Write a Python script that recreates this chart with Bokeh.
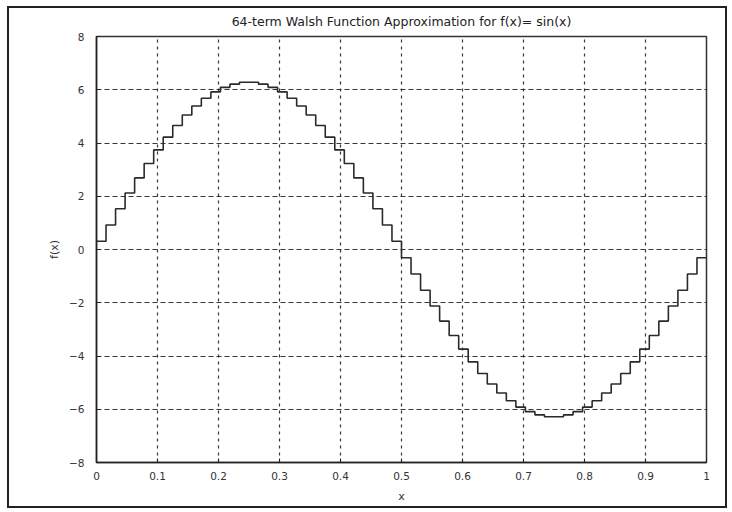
from bokeh.plotting import figure
from bokeh.embed import file_html
from bokeh.resources import INLINE
from bokeh.models import FixedTicker, Range1d

# Step values of the 64-term approximation
steps = [0.31, 0.92, 1.53, 2.12, 2.69, 3.23, 3.74, 4.22, 4.66, 5.05, 5.39, 5.68, 5.92, 6.09, 6.21, 6.28,
         6.28, 6.21, 6.09, 5.92, 5.68, 5.39, 5.05, 4.66, 4.22, 3.74, 3.23, 2.69, 2.12, 1.53, 0.92, 0.31,
         -0.31, -0.92, -1.53, -2.12, -2.69, -3.23, -3.74, -4.22, -4.66, -5.05, -5.39, -5.68, -5.92, -6.09, -6.21, -6.28,
         -6.28, -6.21, -6.09, -5.92, -5.68, -5.39, -5.05, -4.66, -4.22, -3.74, -3.23, -2.69, -2.12, -1.53, -0.92, -0.31]
n_terms = 64
x_ticks = [0, 0.1, 0.2, 0.3, 0.4, 0.5, 0.6, 0.7, 0.8, 0.9, 1]
x_tick_labels = ["0", "0.1", "0.2", "0.3", "0.4", "0.5", "0.6", "0.7", "0.8", "0.9", "1"]
y_ticks = [-8, -6, -4, -2, 0, 2, 4, 6, 8]

x_edges = [k / n_terms for k in range(n_terms + 1)]
y_vals = steps + [steps[-1]]

FONT = "DejaVu Sans"

p = figure(width=720, height=502, output_backend="svg", toolbar_location=None,
           x_range=Range1d(0, 1), y_range=Range1d(-8, 8),
           min_border_left=87, min_border_right=23, min_border_top=28, min_border_bottom=48,
           title="64-term Walsh Function Approximation for f(x)= sin(x)")
p.styles = {"border": "2px solid #222", "margin-left": "7px", "margin-top": "6px"}

p.step(x_edges, y_vals, mode="after", line_color="#2a2a2a", line_width=1.6)

p.title.align = "center"
p.title.vertical_align = "top"
p.title.text_font = FONT
p.title.text_font_size = "12.5px"
p.title.text_font_style = "normal"
p.title.text_color = "#222222"
p.title.standoff = 11

p.outline_line_color = "#333333"
p.outline_line_width = 1.5
p.outline_line_alpha = 1

for ax in (p.xaxis[0], p.yaxis[0]):
    ax.axis_line_color = "#222222"
    ax.axis_line_width = 1.5
    ax.major_tick_in = 4
    ax.major_tick_out = 0
    ax.minor_tick_line_color = None
    ax.major_tick_line_color = "#222222"
    ax.major_label_text_font = FONT
    ax.major_label_text_font_size = "10.5px"
    ax.major_label_text_color = "#333333"
    ax.axis_label_text_font = FONT
    ax.axis_label_text_font_size = "11px"
    ax.axis_label_text_font_style = "normal"
    ax.axis_label_text_color = "#333333"

p.xaxis.ticker = FixedTicker(ticks=x_ticks)
p.xaxis.major_label_overrides = {t: l for t, l in zip(x_ticks, x_tick_labels)}
p.yaxis.ticker = FixedTicker(ticks=y_ticks)
p.xaxis.axis_label = "x"
p.yaxis.axis_label = "f(x)"
p.xaxis.major_label_standoff = 9
p.yaxis.major_label_standoff = 12
p.xaxis.axis_label_standoff = 7
p.yaxis.axis_label_standoff = 5

p.xgrid.ticker = FixedTicker(ticks=x_ticks)
p.ygrid.ticker = FixedTicker(ticks=y_ticks)
p.xgrid.grid_line_dash = "3 4"
p.ygrid.grid_line_dash = "5 3"
for g in (p.xgrid[0], p.ygrid[0]):
    g.grid_line_color = "#222222"
    g.grid_line_width = 1.2
    g.grid_line_alpha = 0.9

p.background_fill_color = "white"
p.border_fill_color = "white"

open("out.html", "w").write(file_html(p, INLINE))
